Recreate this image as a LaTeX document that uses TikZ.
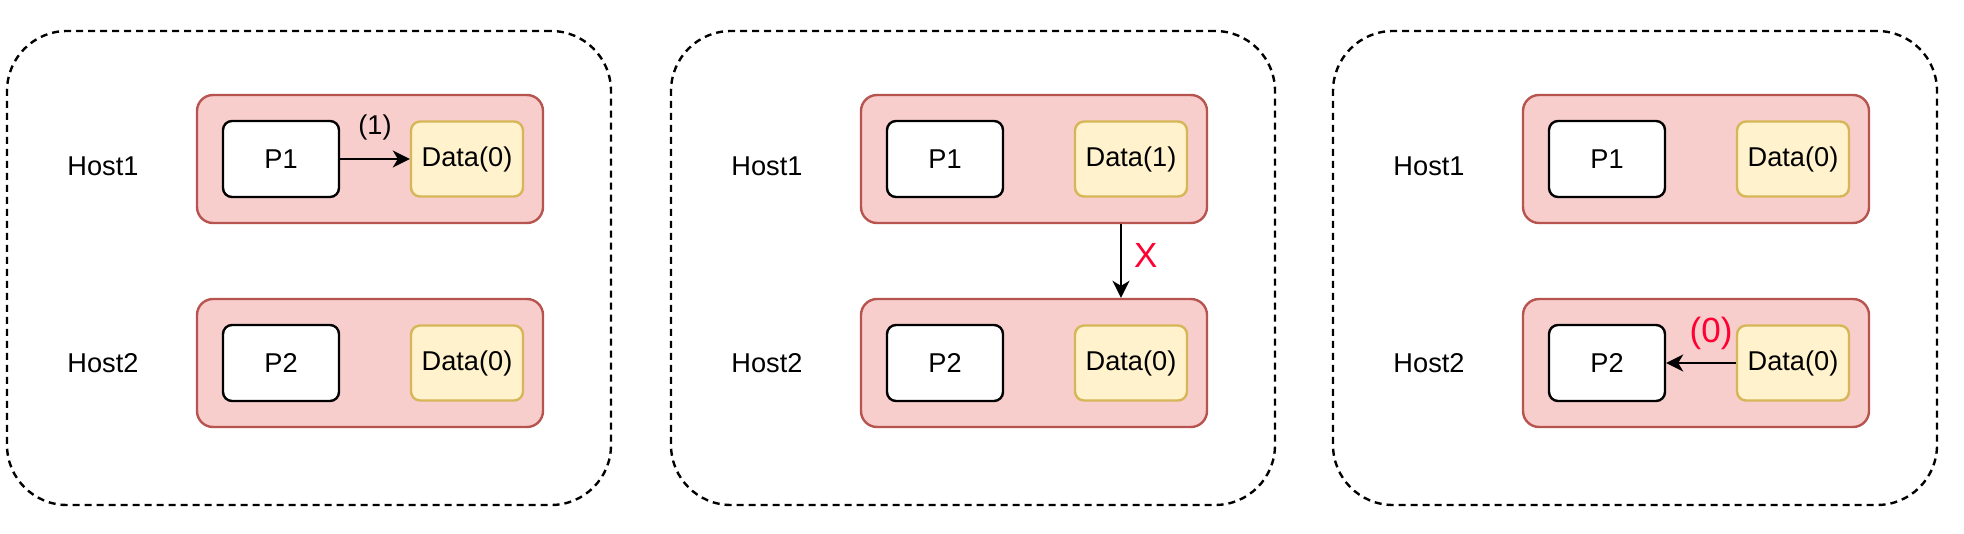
\documentclass[tikz,border=0pt]{standalone}
\usepackage{fontspec}
\setmainfont{Liberation Sans}
\usetikzlibrary{arrows.meta}

\definecolor{hostfill}{HTML}{F8CECC}
\definecolor{hostline}{HTML}{B85450}
\definecolor{datafill}{HTML}{FFF2CC}
\definecolor{dataline}{HTML}{D6B656}
\definecolor{lostred}{HTML}{FF0033}

\begin{document}
\begin{tikzpicture}[x=0.5pt,y=-0.5pt,font=\fontsize{13.6}{16}\selectfont,
		>={Stealth[length=8.5pt,width=8.5pt,inset=2.5pt]}]
			\tikzstyle{frame} = [draw,line width=1.2pt,dash pattern=on 3.5pt off 2.5pt,rounded corners=30pt,minimum width=302pt,minimum height=237pt]
			\tikzstyle{host} = [draw=hostline,fill=hostfill,line width=1.2pt,rounded corners=8pt,minimum width=173pt,minimum height=64pt]
			\tikzstyle{proc} = [draw,fill=white,line width=1.2pt,rounded corners=4.5pt,minimum width=58pt,minimum height=38pt]
			\tikzstyle{data} = [draw=dataline,fill=datafill,line width=1.2pt,rounded corners=4.5pt,minimum width=56pt,minimum height=37.5pt,inner sep=0pt]
			\tikzstyle{lbl} = [inner sep=0pt]
			\tikzstyle{flow} = [->,line width=1pt]
			
			\useasboundingbox (0,0) rectangle (1964,534);
			
			% three snapshots side by side
			\foreach \dx/\k/\val in {0/a/0, 664/b/1, 1326/c/0} {
				\node[frame] (f\k) at (309+\dx,268) {};
				\node[lbl] (n1\k) at (103+\dx,166) {Host1};
				\node[lbl] (n2\k) at (103+\dx,363) {Host2};
				\node[host] (h1\k) at (370+\dx,159) {};
				\node[host] (h2\k) at (370+\dx,363) {};
				\node[proc] (p1\k) at (281+\dx,159) {P1};
				\node[proc] (p2\k) at (281+\dx,363) {P2};
				\node[data] (d1\k) at (467+\dx,159) {Data(\val)};
				\node[data] (d2\k) at (467+\dx,363) {Data(0)};
			}
			
			\path[flow] (p1a) edge node[lbl,above=9pt,name=wa] {(1)} (d1a);
			\path[flow] ([xshift=43.5pt]h1b.south) edge node[lbl,right=6pt,pos=0.42,text=lostred,font=\fontsize{17.5}{20}\selectfont,name=xb] {X} ([xshift=43.5pt]h2b.north);
			\path[flow] (d2c) edge node[lbl,above=6pt,xshift=5pt,text=lostred,font=\fontsize{17.5}{20}\selectfont,name=rc] {(0)} (p2c);
		\end{tikzpicture}
\end{document}
